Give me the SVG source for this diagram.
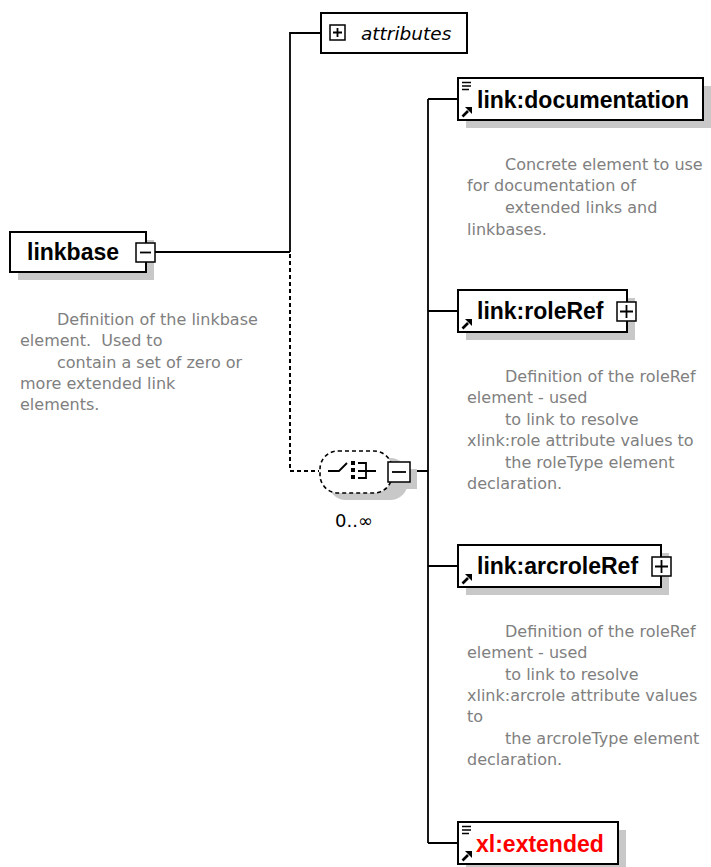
<svg xmlns="http://www.w3.org/2000/svg" width="711" height="867" viewBox="0 0 711 867">
  <style>
    .box { fill: #ffffff; stroke: #000000; stroke-width: 2; }
    .shadow { fill: #c8c8c8; stroke: none; }
    .btn { fill: #ffffff; stroke: #000000; stroke-width: 1.5; }
    .wire { fill: none; stroke: #000000; stroke-width: 1.8; }
    .dash { fill: none; stroke: #000000; stroke-width: 2; stroke-dasharray: 4 3; }
    .label { font-family: "Liberation Sans", Arial, sans-serif; font-weight: bold; font-size: 23px; fill: #000000; }
    .ref { fill: #ff0000; }
    .attr { font-family: "DejaVu Sans", Verdana, sans-serif; font-style: italic; font-size: 18.5px; fill: #000000; }
    .doc { font-family: "DejaVu Sans", Verdana, sans-serif; font-size: 16px; fill: #808080; }
    .occ { font-family: "DejaVu Sans", Verdana, sans-serif; font-size: 18px; fill: #000000; }
  </style>
  <defs>
    <!-- reference arrow drawn in the lower-left corner of element boxes -->
    <g id="refArrow">
      <path d="M0.5 9.5 L6 4" stroke="#000" stroke-width="2.6" fill="none"/>
      <path d="M3 0 L10 0 L10 7 Z" fill="#000"/>
    </g>
    <!-- text-content marker in the upper-left corner -->
    <g id="textMark">
      <path d="M0 0.5 H9 M0 4 H9 M0 7.5 H7" stroke="#000" stroke-width="1.6" fill="none"/>
    </g>
  </defs>

  <!-- connectors -->
  <g id="connectors">
    <path class="wire" d="M155 252 H290 M290 252 V33 H321"/>
    <path class="dash" d="M290 254 V471 H319"/>
    <path class="wire" d="M410 471 H428 M428 99 V843"/>
    <path class="wire" d="M428 99 H458 M428 311 H458 M428 566 H458 M428 843 H458"/>
  </g>

  <!-- root element -->
  <g id="linkbase">
    <rect class="shadow" x="18" y="240" width="136" height="40"/>
    <rect class="box" x="10" y="232" width="136" height="40"/>
    <text class="label" x="27" y="260">linkbase</text>
    <rect class="btn" x="136" y="243" width="19" height="19"/>
    <path class="wire" d="M140 252.5 H151"/>
    <text class="doc" xml:space="preserve"><tspan x="57" y="325">Definition of the linkbase</tspan><tspan x="20" y="346">element.  Used to</tspan><tspan x="57" y="368">contain a set of zero or</tspan><tspan x="20" y="389">more extended link</tspan><tspan x="20" y="410">elements.</tspan></text>
  </g>

  <!-- attribute group -->
  <g id="attributes">
    <rect class="box" x="321" y="13" width="146" height="40"/>
    <rect class="btn" x="330" y="25" width="15" height="15"/>
    <path class="wire" d="M333 32.5 H342 M337.5 28 V37"/>
    <text class="attr" x="361" y="40">attributes</text>
  </g>

  <!-- sequence compositor, 0..unbounded -->
  <g id="sequence">
    <rect class="shadow" x="328" y="458" width="80" height="42" rx="18"/>
    <rect x="320" y="451" width="72" height="42" rx="18" fill="#ffffff" stroke="#000" stroke-width="1.6" stroke-dasharray="4 3"/>
    <path class="wire" d="M328 471 H339 L347 463"/>
    <rect x="351" y="461" width="4" height="4" fill="#000"/>
    <rect x="351" y="468" width="4" height="4" fill="#000"/>
    <rect x="351" y="475" width="4" height="4" fill="#000"/>
    <path class="wire" d="M358 463 H366 V478 H358 M358 471 H376"/>
    <rect class="shadow" x="395" y="469" width="22" height="20"/>
    <rect class="btn" x="388" y="462" width="22" height="20"/>
    <path class="wire" d="M392 472 H406"/>
    <text class="occ" x="335" y="527">0..∞</text>
  </g>

  <!-- link:documentation -->
  <g id="documentation">
    <rect class="shadow" x="466" y="86" width="245" height="42"/>
    <rect class="box" x="458" y="78" width="245" height="42"/>
    <use href="#textMark" x="462" y="82"/>
    <use href="#refArrow" x="462" y="107"/>
    <text class="label" x="477" y="108">link:documentation</text>
    <text class="doc">
      <tspan x="505" y="170">Concrete element to use</tspan>
      <tspan x="467" y="191">for documentation of</tspan>
      <tspan x="505" y="213">extended links and</tspan>
      <tspan x="467" y="235">linkbases.</tspan>
    </text>
  </g>

  <!-- link:roleRef -->
  <g id="roleRef">
    <rect class="shadow" x="466" y="298" width="169" height="42"/>
    <rect class="box" x="458" y="290" width="169" height="42"/>
    <use href="#refArrow" x="462" y="319"/>
    <text class="label" x="477" y="319">link:roleRef</text>
    <rect class="btn" x="617" y="302" width="19" height="19"/>
    <path class="wire" d="M620 311.5 H633 M626.5 305 V318"/>
    <text class="doc">
      <tspan x="505" y="382">Definition of the roleRef</tspan>
      <tspan x="467" y="403">element - used</tspan>
      <tspan x="505" y="425">to link to resolve</tspan>
      <tspan x="467" y="446">xlink:role attribute values to</tspan>
      <tspan x="505" y="468">the roleType element</tspan>
      <tspan x="467" y="489">declaration.</tspan>
    </text>
  </g>

  <!-- link:arcroleRef -->
  <g id="arcroleRef">
    <rect class="shadow" x="466" y="553" width="203" height="42"/>
    <rect class="box" x="458" y="545" width="203" height="42"/>
    <use href="#refArrow" x="462" y="574"/>
    <text class="label" x="477" y="574">link:arcroleRef</text>
    <rect class="btn" x="652" y="557" width="19" height="19"/>
    <path class="wire" d="M655 566.5 H668 M661.5 560 V573"/>
    <text class="doc">
      <tspan x="505" y="637">Definition of the roleRef</tspan>
      <tspan x="467" y="658">element - used</tspan>
      <tspan x="505" y="680">to link to resolve</tspan>
      <tspan x="467" y="701">xlink:arcrole attribute values</tspan>
      <tspan x="467" y="722">to</tspan>
      <tspan x="505" y="744">the arcroleType element</tspan>
      <tspan x="467" y="765">declaration.</tspan>
    </text>
  </g>

  <!-- xl:extended -->
  <g id="extended">
    <rect class="shadow" x="466" y="830" width="160" height="42"/>
    <rect class="box" x="458" y="822" width="160" height="42"/>
    <use href="#textMark" x="462" y="826"/>
    <use href="#refArrow" x="462" y="851"/>
    <text class="label ref" x="476" y="852">xl:extended</text>
  </g>
</svg>
